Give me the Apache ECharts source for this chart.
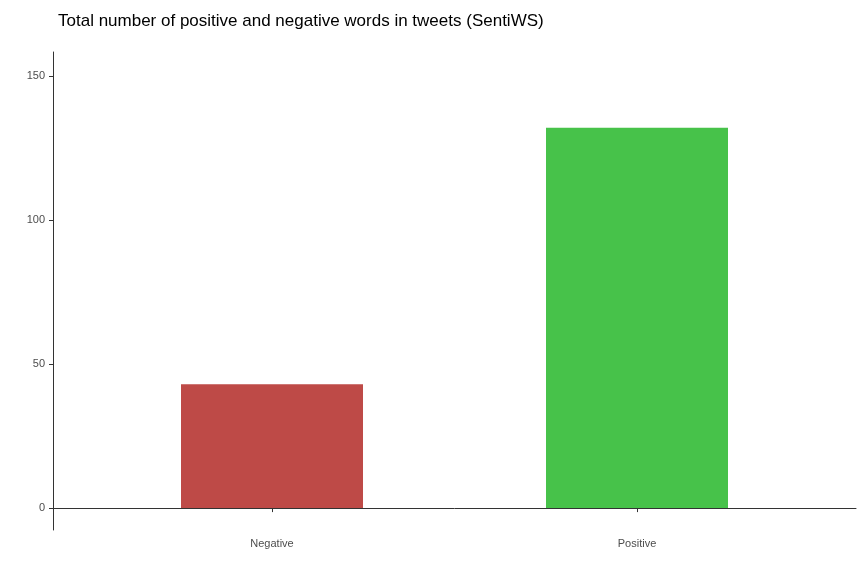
<!DOCTYPE html>
<html>
<head>
<meta charset="utf-8">
<script src="https://cdn.jsdelivr.net/npm/echarts@6/dist/echarts.min.js"></script>
<style>html,body{margin:0;padding:0;background:#fff}#chart{width:864px;height:576px}</style>
</head>
<body>
<div id="chart"></div>
<script>
var categories = ['Negative', 'Positive'];
var counts = [43, 132];
var barColors = ['#BE4A47', '#47C24A'];
var yTicks = [0, 50, 100, 150];

var chart = echarts.init(document.getElementById('chart'));
chart.setOption({
    animation: false,
    title: {
        text: 'Total number of positive and negative words in tweets (SentiWS)',
        left: 53, top: 8,
        textStyle: {fontFamily: 'Liberation Sans, Arial', fontSize: 17, fontWeight: 'normal', color: '#000'}
    },
    grid: {left: 53, right: 8, top: 52, bottom: 46},
    xAxis: {
        type: 'value', min: 0.4, max: 2.6,
        splitLine: {show: false},
        axisLine: {show: true, lineStyle: {color: '#333'}},
        axisTick: {show: true, customValues: [1, 2], length: 4, lineStyle: {color: '#333'}},
        axisLabel: {
            customValues: [1, 2], color: '#4d4d4d', fontSize: 11, fontFamily: 'Liberation Sans, Arial',
            formatter: function (v) { return categories[Math.round(v) - 1]; }
        }
    },
    yAxis: {
        type: 'value', min: -7.6, max: 158.3,
        splitLine: {show: false},
        axisLine: {show: true, lineStyle: {color: '#333'}},
        axisTick: {show: true, customValues: yTicks, length: 4, lineStyle: {color: '#333'}},
        axisLabel: {customValues: yTicks, color: '#4d4d4d', fontSize: 11, fontFamily: 'Liberation Sans, Arial'}
    },
    series: [{
        type: 'bar',
        barWidth: 182,
        data: counts.map(function (c, i) {
            return {value: [i + 1, c], itemStyle: {color: barColors[i]}};
        })
    }]
});
</script>
</body>
</html>
